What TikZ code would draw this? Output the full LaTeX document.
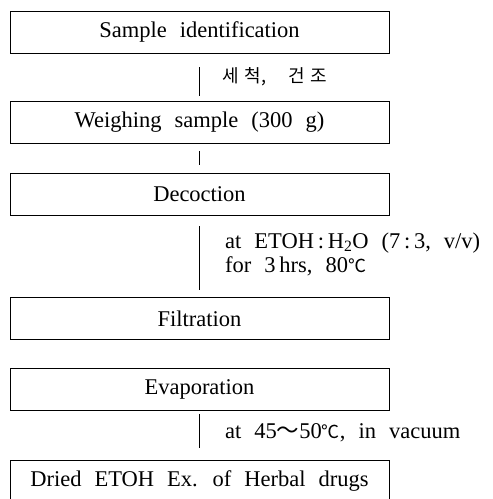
\documentclass[tikz,border=0pt]{standalone}
\usepackage{fontspec}
\setmainfont{Liberation Serif}
\newfontfamily\krfont{Noto Sans CJK KR}
\tikzset{
  stepbox/.style={draw,line width=0.6pt,minimum width=379pt,minimum height=42pt,inner sep=0pt},
  note/.style={anchor=west,inner sep=0pt,align=left},
  flow/.style={line width=0.6pt}
}
\newcommand{\bigtxt}{\fontsize{22.5}{26}\selectfont\spaceskip=13pt plus 2pt\relax}
\begin{document}
\begin{tikzpicture}[font=\bigtxt]
			\useasboundingbox (0,0) rectangle (493pt,-499pt);
			\node[stepbox] (ident) at (199.5pt,-32pt) {Sample identification};
			\node[stepbox] (weigh) at (199.5pt,-122.5pt) {Weighing sample (300 g)};
			\node[stepbox] (decoct) at (199.5pt,-194pt) {Decoction};
			\node[stepbox] (filt) at (199.5pt,-318.5pt) {Filtration};
			\node[stepbox] (evap) at (199.5pt,-389.5pt) {Evaporation};
			\node[stepbox] (dried) at (199.5pt,-481pt) {Dried ETOH Ex. of Herbal drugs};
			% steps in between
			\draw[flow,shorten <=14pt,shorten >=5pt] (ident) -- (weigh);
			\draw[flow,shorten <=7pt,shorten >=8pt] (weigh) -- (decoct);
			\draw[flow,shorten <=11pt,shorten >=7pt] (decoct) -- (filt);
			\draw[flow,shorten <=3pt,shorten >=12pt] (evap) -- (dried);
			% conditions
			\node[note] (wash) at (222pt,-77pt) {\krfont\fontsize{18}{20}\selectfont 세\hspace{6pt}척,\hspace{22pt}건\hspace{6pt}조};
			\node[note] (solv) at (225pt,-243pt) {at ETOH\,:\,H\textsubscript{2}O (7\,:\,3, v/v)};
			\node[note] (time) at (225pt,-266pt) {for 3\,hrs, 80{\krfont\fontsize{18}{19}\selectfont ℃}};
			\node[note] (vac) at (225pt,-433pt) {at 45{\krfont ～}50{\krfont\fontsize{18}{19}\selectfont ℃}, in vacuum};
		\end{tikzpicture}
\end{document}
